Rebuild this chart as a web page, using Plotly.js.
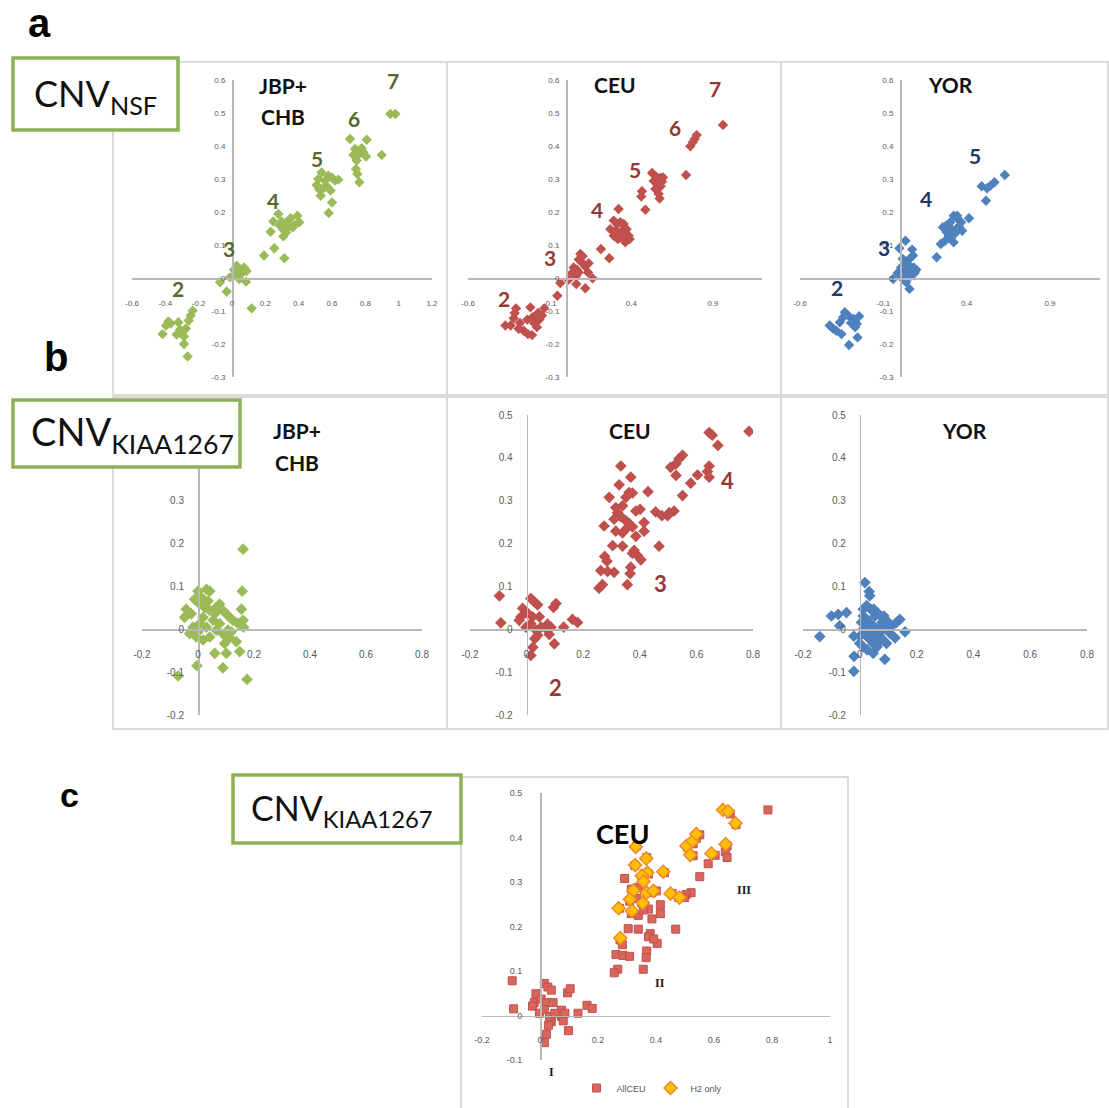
<!DOCTYPE html>
<html><head><meta charset="utf-8">
<script src="https://cdn.plot.ly/plotly-3.0.1.min.js"></script>
<style>html,body{margin:0;padding:0;background:#fff}#chart{width:1109px;height:1108px}</style>
</head><body><div id="chart"></div>
<script>
// ---------- tick values ----------
const aTicksX1 = [-0.6,-0.4,-0.2,0,0.2,0.4,0.6,0.8,1,1.2];
const aTicksX23 = [-0.6,-0.1,0.4,0.9];
const aTicksY = [-0.3,-0.2,-0.1,0,0.1,0.2,0.3,0.4,0.5,0.6];
const bTicksX = [-0.2,0,0.2,0.4,0.6,0.8];
const bTicksY = [-0.2,-0.1,0,0.1,0.2,0.3,0.4,0.5];
const cTicksX = [-0.2,0,0.2,0.4,0.6,0.8,1];
const cTicksY = [-0.1,0,0.1,0.2,0.3,0.4,0.5];

// ---------- a: CNV NSF ----------
const nsfJbpX = [0.95,0.98,
 0.708,0.808,0.738,0.778,0.728,0.764,0.804,0.748,0.744,0.752,0.764,0.898,0.788,
 0.538,0.518,0.508,0.558,0.578,0.598,0.618,0.638,0.568,0.524,0.532,0.592,0.600,0.580,0.548,
 0.278,0.248,0.232,0.288,0.308,0.328,0.352,0.392,0.378,0.404,0.308,0.324,0.364,0.192,0.254,0.314,0.298,0.344,
 0.028,0.048,0.072,0.088,0.008,0.032,0.060,-0.012,0.044,-0.072,-0.032,0.118,0.084,0.012,
 -0.236,-0.248,-0.260,-0.382,-0.396,-0.416,-0.322,-0.312,-0.300,-0.276,-0.288,-0.288,-0.266,-0.332,-0.368];
const nsfJbpY = [0.497,0.497,
 0.421,0.419,0.391,0.393,0.373,0.376,0.368,0.356,0.330,0.315,0.290,0.373,0.381,
 0.320,0.300,0.282,0.295,0.310,0.305,0.295,0.298,0.278,0.268,0.249,0.265,0.229,0.197,0.272,
 0.194,0.171,0.140,0.159,0.146,0.169,0.181,0.189,0.161,0.169,0.126,0.138,0.154,0.068,0.090,0.060,0.171,0.157,
 0.037,0.025,0.032,0.021,0.005,0.012,0.015,0.002,-0.003,-0.013,-0.041,-0.092,-0.011,0.025,
 -0.099,-0.114,-0.129,-0.132,-0.144,-0.170,-0.134,-0.157,-0.167,-0.153,-0.177,-0.200,-0.238,-0.171,-0.138];
const nsfJbpLabels = ['2','3','4','5','6','7'];
const nsfJbpLabelX = [-0.322,-0.016,0.244,0.512,0.732,0.964];
const nsfJbpLabelY = [-0.033,0.090,0.234,0.361,0.484,0.598];

const nsfCeuX = [0.961,
 0.761,0.776,0.788,0.800,0.735,
 0.527,0.551,0.578,0.594,0.537,0.559,0.580,0.547,0.567,0.573,0.465,0.461,0.486,0.588,
 0.322,0.292,0.312,0.333,0.353,0.271,0.302,0.322,0.343,0.363,0.384,0.292,0.318,0.343,0.363,0.390,0.371,0.214,0.265,
 0.088,0.078,0.102,0.047,0.067,0.118,0.135,0.037,0.061,0.016,0.063,0.118,0.163,-0.035,-0.053,0.102,0.139,0.078,
 -0.133,-0.171,-0.204,-0.218,-0.237,-0.196,-0.163,-0.306,-0.314,-0.320,-0.282,-0.259,-0.233,-0.208,-0.371,-0.339,-0.178,-0.147,-0.290];
const nsfCeuY = [0.464,
 0.399,0.411,0.421,0.433,0.312,
 0.318,0.308,0.304,0.305,0.294,0.284,0.278,0.270,0.255,0.241,0.263,0.247,0.207,0.292,
 0.209,0.174,0.164,0.169,0.164,0.148,0.143,0.138,0.143,0.138,0.128,0.128,0.118,0.123,0.108,0.118,0.148,0.088,0.060,
 0.073,0.056,0.045,0.032,0.025,0.035,0.017,0.015,0.005,-0.005,-0.018,-0.031,-0.001,-0.015,-0.054,0.066,0.045,0.017,
 -0.092,-0.106,-0.119,-0.089,-0.126,-0.136,-0.126,-0.092,-0.106,-0.122,-0.136,-0.160,-0.170,-0.173,-0.144,-0.144,-0.149,-0.114,-0.154];
const nsfCeuLabels = ['2','3','4','5','6','7'];
const nsfCeuLabelX = [-0.382,-0.100,0.190,0.424,0.665,0.914];
const nsfCeuLabelY = [-0.062,0.063,0.209,0.330,0.457,0.575];

const nsfYorX = [0.629,0.567,0.543,0.522,0.490,0.516,
 0.322,0.347,0.367,0.302,0.278,0.257,0.312,0.333,0.353,0.373,0.292,0.271,0.306,0.322,0.245,0.414,0.220,0.282,0.343,
 0.033,-0.004,0.073,0.078,0.016,0.037,0.057,0.082,0.098,0.006,0.027,0.047,0.067,-0.014,-0.041,0.016,0.037,0.057,0.088,0.000,0.027,0.057,0.069,0.049,
 -0.331,-0.310,-0.341,-0.278,-0.245,-0.259,-0.269,-0.361,-0.402,-0.422,-0.382,-0.351,-0.306,-0.255,-0.294];
const nsfYorY = [0.312,0.290,0.280,0.272,0.278,0.234,
 0.189,0.179,0.169,0.169,0.159,0.154,0.146,0.136,0.157,0.143,0.128,0.113,0.118,0.108,0.103,0.181,0.063,0.138,0.189,
 0.113,0.090,0.086,0.068,0.058,0.047,0.037,0.032,0.025,0.032,0.022,0.017,0.007,0.015,-0.003,-0.003,-0.013,-0.033,0.015,0.007,0.037,0.058,0.025,0.002,
 -0.104,-0.114,-0.119,-0.124,-0.116,-0.139,-0.149,-0.134,-0.153,-0.144,-0.160,-0.170,-0.203,-0.180,-0.136];
const nsfYorLabels = ['2','3','4','5'];
const nsfYorLabelX = [-0.376,-0.096,0.159,0.451];
const nsfYorLabelY = [-0.028,0.093,0.241,0.371];

// ---------- b: CNV KIAA1267 ----------
const kiaJbpX = [0.161,0.158,0.155,0.175,-0.071,-0.004,0.089,0.060,0.101,0.149,
 0.000,0.030,0.042,-0.012,0.012,-0.042,-0.048,-0.024,0.006,0.024,0.042,0.065,0.077,0.089,0.101,0.113,0.125,0.143,0.163,0.161,
 -0.030,-0.006,0.018,0.042,0.065,0.089,0.113,0.137,0.030,0.054,0.006,-0.018,0.077,0.107,0.036,0.060,0.018,0.000,0.095,0.119];
const kiaJbpY = [0.187,0.089,0.047,-0.117,-0.109,-0.085,-0.090,-0.056,-0.056,-0.052,
 0.089,0.093,0.089,0.070,0.074,0.047,0.028,0.036,0.059,0.051,0.044,0.051,0.059,0.044,0.036,0.028,0.021,0.013,0.005,0.021,
 -0.010,-0.018,-0.025,-0.018,-0.002,-0.011,-0.019,-0.029,0.005,0.021,0.013,0.005,0.013,-0.002,0.066,0.036,0.028,-0.006,-0.033,-0.006];

const kiaCeuX = [0.786,0.645,0.656,0.676,0.551,0.539,0.528,0.509,0.528,0.645,0.639,0.645,0.604,0.580,0.551,0.521,0.504,0.478,0.456,0.498,0.468,0.429,
 0.333,0.327,0.368,0.362,0.351,0.374,0.292,0.315,0.339,0.386,0.401,0.321,0.333,0.351,0.362,0.374,0.309,0.274,0.315,0.339,0.356,0.415,0.415,0.386,0.380,0.374,0.404,0.276,0.284,0.339,0.304,0.262,0.286,0.309,0.268,0.368,0.366,0.356,0.256,0.392,
 -0.096,-0.091,-0.014,-0.020,-0.026,0.015,0.027,0.039,0.004,0.021,-0.002,0.015,0.045,0.074,0.074,0.080,0.086,0.095,0.104,0.131,0.162,0.180,0.039,0.029,0.022,0.015,0.098,0.033,0.051];
const kiaCeuY = [0.462,0.459,0.453,0.429,0.406,0.398,0.386,0.378,0.359,0.381,0.368,0.355,0.360,0.341,0.312,0.276,0.272,0.265,0.274,0.265,0.194,0.321,
 0.381,0.337,0.355,0.319,0.308,0.318,0.308,0.284,0.288,0.276,0.280,0.272,0.263,0.253,0.247,0.239,0.257,0.241,0.229,0.225,0.237,0.249,0.229,0.217,0.184,0.177,0.162,0.170,0.159,0.194,0.195,0.137,0.135,0.133,0.104,0.145,0.130,0.104,0.096,0.172,
 0.078,0.015,0.049,0.029,0.021,0.072,0.064,0.057,0.037,0.029,0.005,0.013,0.029,0.012,-0.002,-0.012,0.005,0.051,0.060,0.005,0.023,0.016,-0.014,-0.022,-0.042,-0.061,-0.034,-0.002,0.005];
const kiaCeuLabels = ['2','3','4'];
const kiaCeuLabelX = [0.101,0.472,0.709];
const kiaCeuLabelY = [-0.136,0.108,0.347];

const kiaYorX = [0.018,0.033,0.035,-0.100,-0.076,-0.047,-0.141,-0.071,-0.021,-0.020,-0.021,0.088,0.159,0.141,0.129,0.124,
 0.012,0.024,0.038,0.049,0.061,0.073,0.085,0.012,0.024,0.035,0.047,0.059,0.071,0.082,0.094,0.106,0.012,0.024,0.035,0.047,0.059,0.071,0.082,0.094,0.000,0.012,0.026,0.047,0.061,0.000,0.006,0.019,0.101,0.113,0.054,0.042,0.066,0.031,0.078];
const kiaYorY = [0.109,0.088,0.078,0.031,0.035,0.039,-0.017,0.008,-0.016,-0.063,-0.098,-0.070,-0.006,0.023,0.016,-0.020,
 0.047,0.055,0.047,0.047,0.039,0.031,0.031,0.031,0.023,0.016,0.008,0.000,0.000,0.000,0.000,-0.009,0.000,-0.016,-0.023,-0.033,-0.016,-0.017,-0.025,-0.033,-0.033,-0.041,-0.048,-0.056,-0.041,-0.016,0.016,0.008,0.016,0.008,0.031,-0.008,-0.031,0.000,0.016];

// ---------- c: CEU, H2 only ----------
const h2OnlyX = [0.330,0.366,0.328,0.425,0.370,0.351,0.357,0.322,0.310,0.368,0.391,0.354,0.271,0.317,0.277,0.450,0.481,0.505,0.526,0.539,0.518,0.591,0.640,0.631,0.648,0.674];
const h2OnlyY = [0.379,0.353,0.338,0.323,0.321,0.314,0.301,0.281,0.261,0.276,0.280,0.253,0.241,0.235,0.174,0.274,0.265,0.381,0.392,0.408,0.361,0.364,0.385,0.462,0.459,0.432];
const cClassLabels = ['I','II','III'];
const cClassX = [0.041,0.414,0.703];
const cClassY = [-0.128,0.072,0.281];

// ---------- styling & layout ----------
const W = 1109, H = 1108;
const GREEN = '#9BBB59', RED = '#C0504D', BLUE = '#4F81BD';
const GREEN_T = '#55682B', RED_T = '#953735', BLUE_T = '#1F3864';
const px = v => v / W;
const py = v => 1 - v / H;
const TXT = 'Lato, "Open Sans", sans-serif';

const panels = [
 {xs:nsfJbpX, ys:nsfJbpY, c:GREEN, pxr:[132,432], pyr:[80,377], xr:[-0.6,1.2], yr:[-0.3,0.6], xt:aTicksX1, yt:aTicksY, fs:8, xl:17, yl:5, ms:8},
 {xs:nsfCeuX, ys:nsfCeuY, c:RED,   pxr:[468,762], pyr:[80,377], xr:[-0.6,1.2], yr:[-0.3,0.6], xt:aTicksX23, yt:aTicksY, fs:8, xl:17, yl:5, ms:8},
 {xs:nsfYorX, ys:nsfYorY, c:BLUE,  pxr:[800,1100], pyr:[80,377], xr:[-0.6,1.2], yr:[-0.3,0.6], xt:aTicksX23, yt:aTicksY, fs:8, xl:17, yl:5, ms:8},
 {xs:kiaJbpX, ys:kiaJbpY, c:GREEN, pxr:[142,422], pyr:[415,715], xr:[-0.2,0.8], yr:[-0.2,0.5], xt:bTicksX, yt:bTicksY, fs:10, xl:15, yl:12, ms:9},
 {xs:kiaCeuX, ys:kiaCeuY, c:RED,   pxr:[470,753], pyr:[415,715], xr:[-0.2,0.8], yr:[-0.2,0.5], xt:bTicksX, yt:bTicksY, fs:10, xl:15, yl:12, ms:9},
 {xs:kiaYorX, ys:kiaYorY, c:BLUE,  pxr:[803,1087], pyr:[415,715], xr:[-0.2,0.8], yr:[-0.2,0.5], xt:bTicksX, yt:bTicksY, fs:10, xl:15, yl:12, ms:9},
 {xs:kiaCeuX, ys:kiaCeuY, c:'#D9665A', pxr:[482,830], pyr:[793,1060], xr:[-0.2,1], yr:[-0.1,0.5], xt:cTicksX, yt:cTicksY, fs:9, xl:15, yl:16, ms:8, sym:'square', name:'AllCEU', line:'#C0504D'}
];

const layout = {
 width: W, height: H, margin:{l:0,r:0,t:0,b:0},
 paper_bgcolor:'#fff', plot_bgcolor:'rgba(0,0,0,0)',
 showlegend:true, hovermode:false,
 legend:{orientation:'h', x:px(652), y:py(1088), xanchor:'center', yanchor:'middle', itemwidth:30,
   font:{size:9, color:'#595959', family:'"Liberation Sans", Arial, sans-serif'}, bgcolor:'rgba(0,0,0,0)'},
 shapes:[], annotations:[]
};
const traces = [];

// convert data coordinates of a panel into paper coordinates (for labels outside the axis range)
function toPaper(p, x, y) {
 const fx = (x - p.xr[0]) / (p.xr[1] - p.xr[0]);
 const fy = (y - p.yr[0]) / (p.yr[1] - p.yr[0]);
 return [px(p.pxr[0] + fx * (p.pxr[1] - p.pxr[0])), py(p.pyr[1] - fy * (p.pyr[1] - p.pyr[0]))];
}

panels.forEach((p,i) => {
 const n = i === 0 ? '' : String(i+1);
 const xd = [px(p.pxr[0]), px(p.pxr[1])];
 const yd = [py(p.pyr[1]), py(p.pyr[0])];
 const xpos = yd[0] + (0 - p.yr[0]) / (p.yr[1] - p.yr[0]) * (yd[1] - yd[0]);
 const ypos = xd[0] + (0 - p.xr[0]) / (p.xr[1] - p.xr[0]) * (xd[1] - xd[0]);
 const common = {showline:true, linecolor:'#b8b8b8', linewidth:1.6, showgrid:false, zeroline:false,
   ticks:'outside', tickcolor:'rgba(0,0,0,0)', anchor:'free', fixedrange:true,
   tickfont:{size:p.fs, color:'#5a5a5a', family:'"Liberation Sans", Arial, sans-serif'}};
 layout['xaxis'+n] = Object.assign({}, common, {domain:xd, range:p.xr, position:xpos, ticklen:p.xl,
   tickvals:p.xt, ticktext:p.xt.map(String)});
 layout['yaxis'+n] = Object.assign({}, common, {domain:yd, range:p.yr, position:ypos, ticklen:p.yl,
   tickvals:p.yt, ticktext:p.yt.map(String)});
 traces.push({type:'scatter', mode:'markers', x:p.xs, y:p.ys, xaxis:'x'+n, yaxis:'y'+n,
   name:p.name || '', showlegend: !!p.name,
   marker:{symbol:p.sym || 'diamond', size:p.ms, color:p.c, line:{width:p.line?1:0, color:p.line || p.c}}});
});

// H2 only overlay on panel c
traces.push({type:'scatter', mode:'markers', x:h2OnlyX, y:h2OnlyY, xaxis:'x7', yaxis:'y7', name:'H2 only', showlegend:true,
 marker:{symbol:'diamond', size:10, color:'#FFC000', line:{width:1.5, color:'#F08A2C'}}});

function note(text, pp, font) {
 layout.annotations.push({text:text, x:pp[0], y:pp[1], xref:'paper', yref:'paper',
   xanchor:'center', yanchor:'middle', showarrow:false, font:font});
}

// cluster number labels (placed through paper coordinates so labels beyond the axis range stay visible)
function addLabels(labels, xs, ys, pi, color, size, fam) {
 labels.forEach((t,k) => note('<b>'+t+'</b>', toPaper(panels[pi], xs[k], ys[k]), {size:size, color:color, family:fam || TXT}));
}
addLabels(nsfJbpLabels, nsfJbpLabelX, nsfJbpLabelY, 0, GREEN_T, 21);
addLabels(nsfCeuLabels, nsfCeuLabelX, nsfCeuLabelY, 1, RED_T, 21);
addLabels(nsfYorLabels, nsfYorLabelX, nsfYorLabelY, 2, BLUE_T, 21);
addLabels(kiaCeuLabels, kiaCeuLabelX, kiaCeuLabelY, 4, RED_T, 22);
addLabels(cClassLabels, cClassX, cClassY, 6, '#1a1a1a', 12, '"Liberation Serif", serif');

// population titles
const titles = [
 ['JBP+', 0.306, 0.582, 0], ['CHB', 0.306, 0.488, 0],
 ['CEU', 0.30, 0.585, 1], ['YOR', 0.30, 0.585, 2],
 ['JBP+', 0.354, 0.464, 3], ['CHB', 0.354, 0.390, 3],
 ['CEU', 0.365, 0.464, 4], ['YOR', 0.37, 0.464, 5]
];
titles.forEach(t => note('<b>'+t[0]+'</b>', toPaper(panels[t[3]], t[1], t[2]), {size:21, color:'#111', family:TXT}));
note('<b>CEU</b>', toPaper(panels[6], 0.286, 0.409), {size:27, color:'#000', family:TXT});

// frames
const frameLine = {color:'#cfcfcf', width:1.5};
[[113,62,1108,395],[113,397,1108,729],[461,777,848,1112]].forEach(r => layout.shapes.push({type:'rect', xref:'paper', yref:'paper',
 x0:px(r[0]), x1:px(r[2]), y0:py(r[3]), y1:py(r[1]), line:frameLine, layer:'below'}));
[[447,62,395],[781,62,395],[447,397,729],[781,397,729]].forEach(l => layout.shapes.push({type:'line', xref:'paper', yref:'paper',
 x0:px(l[0]), x1:px(l[0]), y0:py(l[2]), y1:py(l[1]), line:frameLine, layer:'below'}));

// CNV boxes
const boxes = [
 {r:[13,58,178,130], text:'CNV<sub>NSF</sub>', tx:32, ty:95, fs:36},
 {r:[13,400,240,467], text:'CNV<sub>KIAA1267</sub>', tx:29, ty:434, fs:38},
 {r:[233,775,461,843], text:'CNV<sub>KIAA1267</sub>', tx:249, ty:810, fs:34}
];
boxes.forEach(b => {
 layout.shapes.push({type:'rect', xref:'paper', yref:'paper', x0:px(b.r[0]), x1:px(b.r[2]), y0:py(b.r[3]), y1:py(b.r[1]),
   line:{color:'#8DB255', width:3.5}, fillcolor:'#fff', layer:'above'});
 layout.annotations.push({text:b.text, x:px(b.tx), y:py(b.ty), xref:'paper', yref:'paper', xanchor:'left', yanchor:'middle',
   showarrow:false, font:{size:b.fs, color:'#111', family:TXT}});
});

// panel letters
[['a',39,23,40],['b',56,357,40],['c',69,795,34]].forEach(l => note('<b>'+l[0]+'</b>', [px(l[1]), py(l[2])],
 {size:l[3], color:'#000', family:'"Liberation Sans", Arial, sans-serif'}));

Plotly.newPlot('chart', traces, layout, {staticPlot:true, displayModeBar:false});
</script></body></html>
